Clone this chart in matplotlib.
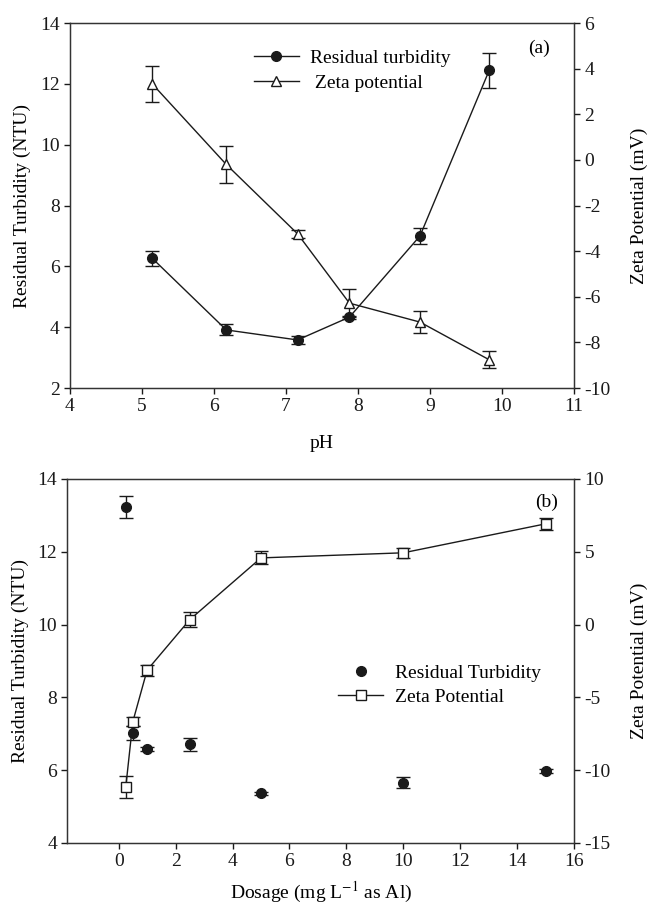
import matplotlib
matplotlib.use("Agg")
import matplotlib.pyplot as plt
from matplotlib.lines import Line2D

plt.rcParams['font.family'] = ['Liberation Serif', 'DejaVu Serif']
plt.rcParams['mathtext.fontset'] = 'stix'
plt.rcParams['font.size'] = 14
plt.rcParams['axes.unicode_minus'] = False

# (a) effect of pH
ph = [5.14, 6.17, 7.16, 7.88, 8.86, 9.82]
turb_ph = [6.27, 3.91, 3.58, 4.33, 7.0, 12.44]
turb_ph_err = [0.25, 0.18, 0.12, 0.05, 0.25, 0.59]
zeta_ph = [3.34, -0.2, -3.24, -6.28, -7.11, -8.76]
zeta_ph_err = [0.79, 0.83, 0.17, 0.6, 0.48, 0.37]

# (b) effect of dosage
dose = [0.25, 0.5, 1.0, 2.5, 5.0, 10.0, 15.0]
turb_dose = [13.24, 7.02, 6.58, 6.71, 5.36, 5.66, 5.97]
turb_dose_err = [0.3, 0.2, 0.05, 0.18, 0.04, 0.14, 0.05]
zeta_dose = [-11.17, -6.66, -3.13, 0.34, 4.58, 4.93, 6.92]
zeta_dose_err = [0.75, 0.33, 0.37, 0.5, 0.45, 0.35, 0.4]

ink = '#1a1a1a'
fig = plt.figure(figsize=(6.48, 9.07), dpi=100)


def style(ax, twin):
    for s in ax.spines.values():
        s.set_color('#333333')
        s.set_linewidth(1.0)
    ax.tick_params(direction='out', length=4, width=1, colors=ink, labelsize=14, top=False)
    twin.tick_params(direction='out', length=4, width=1, colors=ink, labelsize=14)
    for s in twin.spines.values():
        s.set_color('#333333')


# ---- panel (a)
ax1 = fig.add_axes([0.108, 0.5722, 0.778, 0.4024])
ax1b = ax1.twinx()
ax1.errorbar(ph, turb_ph, yerr=turb_ph_err, color=ink, marker='o', ms=7, lw=1,
             capsize=5, elinewidth=1, capthick=1)
ax1b.errorbar(ph, zeta_ph, yerr=zeta_ph_err, color=ink, marker='^', ms=7, mfc='white',
              mec=ink, lw=1, capsize=5, elinewidth=1, capthick=1)
ax1.set_xlim(4, 11)
ax1.set_ylim(2, 14)
ax1b.set_ylim(-10, 6)
ax1.set_xticks(range(4, 12))
ax1.set_yticks(range(2, 15, 2))
ax1b.set_yticks(range(-10, 7, 2))
ax1.set_xlabel('pH', labelpad=14, fontsize=14)
ax1.set_ylabel('Residual Turbidity (NTU)', labelpad=6, fontsize=14)
ax1b.set_ylabel('Zeta Potential (mV)', rotation=90, labelpad=14, fontsize=14)
style(ax1, ax1b)
ax1.text(0.93, 0.93, '(a)', transform=ax1.transAxes, ha='center', va='center', fontsize=14)
h1 = [Line2D([], [], color=ink, marker='o', ms=7, lw=1),
      Line2D([], [], color=ink, marker='^', ms=7, mfc='white', lw=1)]
ax1.legend(h1, ['Residual turbidity', ' Zeta potential'], loc='upper left',
           bbox_to_anchor=(0.33, 0.975), frameon=False, fontsize=14,
           handlelength=2.3, handletextpad=0.6, labelspacing=0.35)

# ---- panel (b)
ax2 = fig.add_axes([0.104, 0.0706, 0.782, 0.4013])
ax2b = ax2.twinx()
ax2.errorbar(dose, turb_dose, yerr=turb_dose_err, color=ink, marker='o', ms=7, ls='none',
             capsize=5, elinewidth=1, capthick=1)
ax2b.errorbar(dose, zeta_dose, yerr=zeta_dose_err, color=ink, marker='s', ms=7, mfc='white',
              mec=ink, lw=1, capsize=5, elinewidth=1, capthick=1)
ax2.set_xlim(-1.8, 16)
ax2.set_ylim(4, 14)
ax2b.set_ylim(-15, 10)
ax2.set_xticks(range(0, 17, 2))
ax2.set_yticks(range(4, 15, 2))
ax2b.set_yticks(range(-15, 11, 5))
ax2.set_xlabel('Dosage (mg L$^{-1}$ as Al)', labelpad=7, fontsize=14)
ax2.set_ylabel('Residual Turbidity (NTU)', labelpad=6, fontsize=14)
ax2b.set_ylabel('Zeta Potential (mV)', rotation=90, labelpad=14, fontsize=14)
style(ax2, ax2b)
ax2.text(0.945, 0.935, '(b)', transform=ax2.transAxes, ha='center', va='center', fontsize=14)
h2 = [Line2D([], [], color=ink, marker='o', ms=7, ls='none'),
      Line2D([], [], color=ink, marker='s', ms=7, mfc='white', lw=1)]
ax2.legend(h2, ['Residual Turbidity', 'Zeta Potential'], loc='upper left',
           bbox_to_anchor=(0.5, 0.54), frameon=False, fontsize=14,
           handlelength=2.3, handletextpad=0.6, labelspacing=0.35)

fig.savefig('out.png', dpi=100)
